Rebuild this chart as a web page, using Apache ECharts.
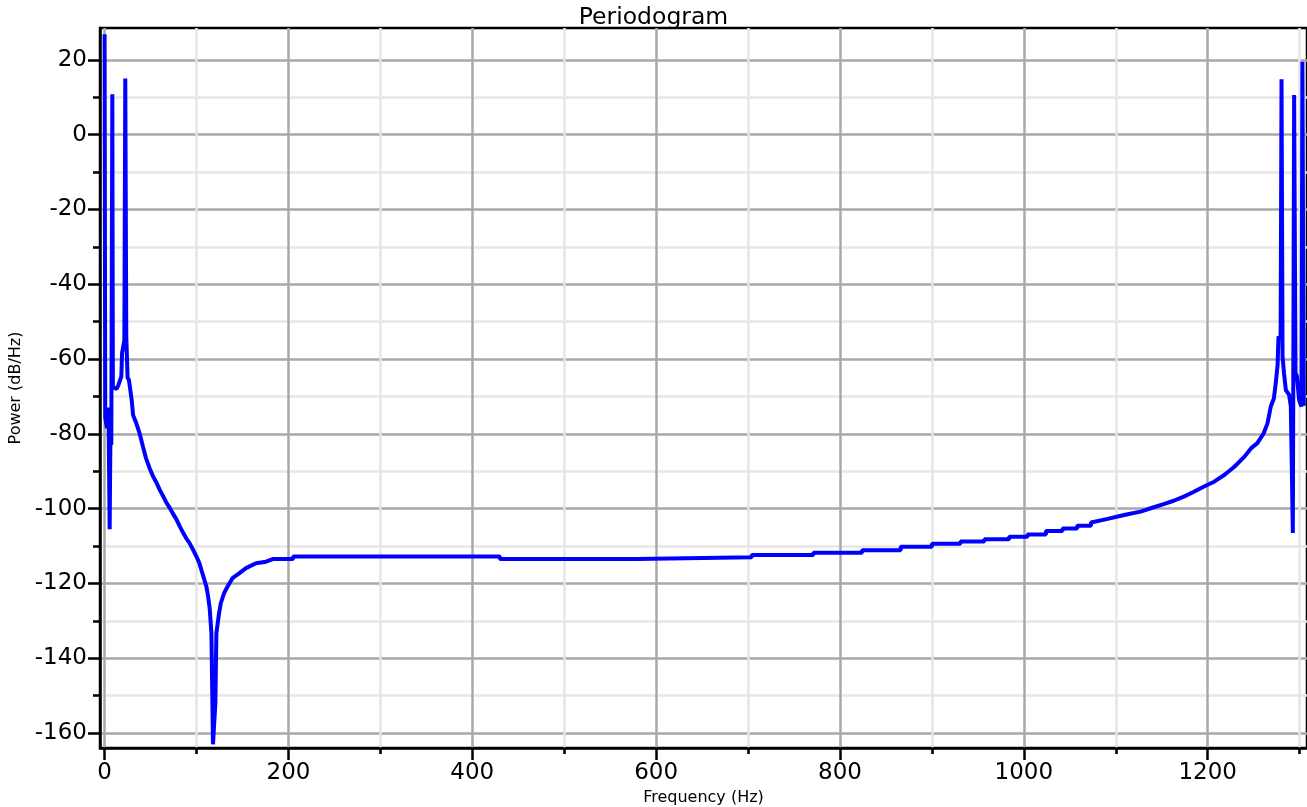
<!DOCTYPE html>
<html>
<head>
<meta charset="utf-8">
<title>Periodogram</title>
<script src="https://cdn.jsdelivr.net/npm/echarts@6.0.0/dist/echarts.min.js"></script>
<style>
  html, body { margin: 0; padding: 0; background: #fff; }
  #chart { width: 1307px; height: 807px; }
</style>
</head>
<body>
<div id="chart"></div>
<script>
// Spectrum samples: frequency (Hz) and power (dB/Hz).
// Repeated frequencies mark the small level steps of the flat band.
const freqHz = [
  0, 0.7, 2.5, 3.5, 4.2, 5.5, 6.5, 7.3, 8.4, 9.0, 11, 13, 15, 17, 18.2, 19, 20.5, 21.5,
  22.5, 23.6, 25, 26.5, 28.5, 29.5, 31, 34.5, 38, 41.7, 45, 49, 52.5, 56.3, 60, 63.5,
  67, 70.8, 74.5, 78, 81.5, 85.3, 89, 92.6, 96, 99.9, 103, 105.3, 108, 110.8, 112.6,
  114.3, 116.2, 117.9, 120.5, 121.6, 124.5, 126.4, 130, 133.6, 139.1, 146.4, 153.8,
  164.7, 175.6, 182.9, 205, 205, 430, 430, 579, 579, 704, 704, 771, 771, 824, 824,
  866, 866, 900, 900, 931, 931, 957, 957, 984, 984, 1004, 1004, 1024, 1024, 1042, 1042,
  1058, 1058, 1073, 1073, 1090, 1102, 1113, 1127, 1138, 1152, 1163, 1174, 1185, 1196,
  1207, 1218, 1229, 1240, 1247, 1254, 1261, 1265, 1268.6, 1272, 1274, 1276, 1277,
  1279.3, 1280.3, 1281.4, 1283, 1285, 1288.6, 1290.4, 1292.6, 1294, 1295.5, 1297,
  1299.4, 1302, 1303, 1304.5
];
const powerDb = [
  26.8, -75.5, -78.5, -76, -73, -105.5, -76, -83, 10.8, -67.5, -67.7, -68, -67, -65.5,
  -64.7, -58.4, -58.4, -55, 15, -54, -65, -65.6, -65.6, -71, -75, -77.2, -79.8, -83.4,
  -86.5, -89.2, -91.3, -93, -95, -96.6, -98.3, -99.8, -101.4, -102.8, -104.6, -106.4,
  -108, -109.3, -110.9, -112.8, -114.5, -116.4, -118.6, -120.9, -123.5, -126.6, -133.3,
  -163, -152, -133.3, -128, -125.3, -122.6, -120.9, -118.6, -117.3, -115.9, -114.6,
  -114.2, -113.5, -113.5, -112.8, -112.8, -113.5, -113.5, -113.0, -113.0, -112.4,
  -112.4, -111.8, -111.8, -111.1, -111.1, -110.2, -110.2, -109.4, -109.4, -108.8,
  -108.8, -108.2, -108.2, -107.5, -107.5, -106.9, -106.9, -106.0, -106.0, -105.3,
  -105.3, -104.6, -104.6, -103.7, -102.8, -102.1, -101.5, -100.8, -99.9, -98.8, -97.9,
  -96.8, -95.5, -94.1, -92.8, -91, -88.8, -86.1, -83.9, -82.5, -79.8, -77.2, -72.7,
  -70.5, -66.5, -61.6, -54, -54.5, 14.8, -59.4, -63.8, -68.3, -69.6, -72.7, -106.5,
  10.6, -63.8, -64.5, -71, -72.7, 19.5, -72.5
];

// Tick values
const xMajorTicks = [0, 200, 400, 600, 800, 1000, 1200];
const xMinorTicks = [100, 300, 500, 700, 900, 1100, 1300];
const yMajorTicks = [-160, -140, -120, -100, -80, -60, -40, -20, 0, 20];
const yMinorTicks = [-150, -130, -110, -90, -70, -50, -30, -10, 10];

const X_MIN = -5, X_MAX = 1308;
const Y_MIN = -164, Y_MAX = 28.5;

const FONT = "'DejaVu Sans', Verdana, sans-serif";
const MAJOR_GRID = '#a8a8a8';
const MINOR_GRID = '#e6e6e6';
const plain = v => String(v);

const spectrum = freqHz.map((f, i) => [f, powerDb[i]]);

const chart = echarts.init(document.getElementById('chart'), null, { renderer: 'canvas' });

chart.setOption({
  animation: false,
  backgroundColor: '#fff',
  title: {
    text: 'Periodogram',
    left: 'center',
    top: 1,
    textStyle: { fontFamily: FONT, fontSize: 23.5, fontWeight: 'normal', color: '#000' }
  },
  grid: {
    left: 100, right: 0, top: 28, bottom: 59,
    outerBoundsMode: 'none',
    containLabel: false,
    show: true, borderColor: '#000', borderWidth: 2.5, backgroundColor: 'transparent'
  },
  xAxis: [
    {
      // minor ticks and light grid lines
      type: 'value', position: 'bottom', min: X_MIN, max: X_MAX,
      axisLine: { show: false, onZero: false },
      axisTick: { show: true, customValues: xMinorTicks, length: 6, inside: false,
        lineStyle: { color: '#000', width: 2.5 } },
      axisLabel: { show: false, customValues: xMinorTicks },
      splitLine: { show: true, lineStyle: { color: MINOR_GRID, width: 2.5 } }
    },
    {
      type: 'value', position: 'bottom', min: X_MIN, max: X_MAX,
      name: 'Frequency (Hz)', nameLocation: 'middle', nameGap: 38,
      nameTextStyle: { fontFamily: FONT, fontSize: 16, color: '#000' },
      axisLine: { show: true, onZero: false, lineStyle: { color: '#000', width: 2.5 } },
      axisTick: { show: true, customValues: xMajorTicks, length: 12, inside: false,
        lineStyle: { color: '#000', width: 2.5 } },
      axisLabel: { show: true, customValues: xMajorTicks, margin: 14, formatter: plain,
        fontFamily: FONT, fontSize: 23, color: '#000' },
      splitLine: { show: true, lineStyle: { color: MAJOR_GRID, width: 2.5 } }
    }
  ],
  yAxis: [
    {
      type: 'value', position: 'left', min: Y_MIN, max: Y_MAX,
      axisLine: { show: false, onZero: false },
      axisTick: { show: true, customValues: yMinorTicks, length: 7, inside: false,
        lineStyle: { color: '#000', width: 2.5 } },
      axisLabel: { show: false, customValues: yMinorTicks },
      splitLine: { show: true, lineStyle: { color: MINOR_GRID, width: 2.5 } }
    },
    {
      type: 'value', position: 'left', min: Y_MIN, max: Y_MAX,
      name: 'Power (dB/Hz)', nameLocation: 'middle', nameGap: 74, nameRotate: 90,
      nameTextStyle: { fontFamily: FONT, fontSize: 16, color: '#000' },
      axisLine: { show: true, onZero: false, lineStyle: { color: '#000', width: 2.5 } },
      axisTick: { show: true, customValues: yMajorTicks, length: 12, inside: false,
        lineStyle: { color: '#000', width: 2.5 } },
      axisLabel: { show: true, customValues: yMajorTicks, margin: 13, formatter: plain,
        fontFamily: FONT, fontSize: 23, color: '#000' },
      splitLine: { show: true, lineStyle: { color: MAJOR_GRID, width: 2.5 } }
    }
  ],
  series: [
    {
      type: 'line',
      xAxisIndex: 1,
      yAxisIndex: 1,
      data: spectrum,
      showSymbol: false,
      symbol: 'none',
      clip: true,
      lineStyle: { color: '#0000ff', width: 4, join: 'miter', miterLimit: 1 },
      z: 5
    }
  ]
});
</script>
</body>
</html>
